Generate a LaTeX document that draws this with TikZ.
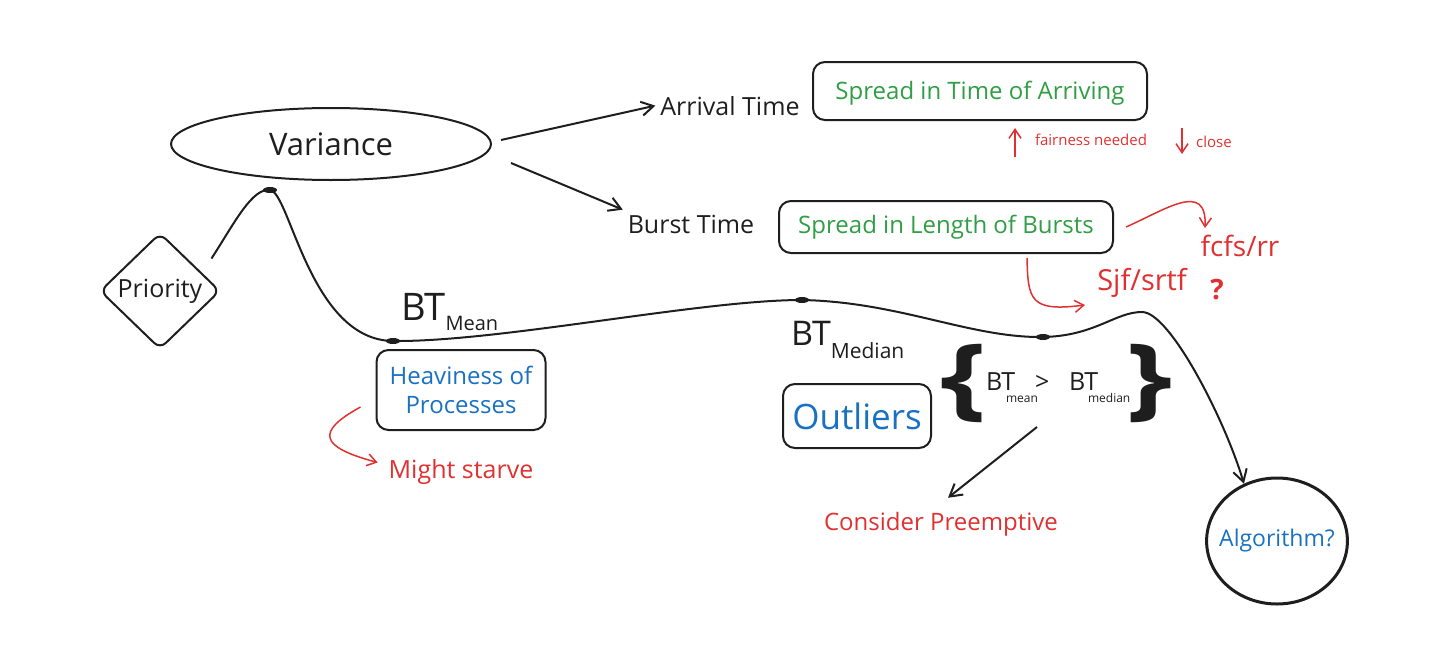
\documentclass[tikz,border=0pt]{standalone}
\usepackage{fontspec}
\setmainfont{Open Sans}
\usetikzlibrary{shapes.geometric,arrows.meta,positioning,calc}

\definecolor{ink}{HTML}{1E1E1E}
\definecolor{sketchgreen}{HTML}{2F9E44}
\definecolor{sketchred}{HTML}{E03131}
\definecolor{sketchblue}{HTML}{1971C2}
\newcommand{\fsz}[1]{\fontsize{#1}{#1}\selectfont}

\begin{document}
\begin{tikzpicture}[x=0.5pt,y=-0.5pt,color=ink,line width=1pt,
  box/.style={draw=ink,rounded corners=6pt,inner sep=0pt},
  lbl/.style={anchor=base,inner sep=2pt},
  arw/.style={-{Straight Barb[length=6pt,width=7pt]}},
  redarw/.style={sketchred,line width=0.75pt,-{Straight Barb[length=4.5pt,width=6pt]}}]
\useasboundingbox (0,0) rectangle (1444,648);

\node[draw,ellipse,minimum width=160pt,minimum height=36pt,inner sep=0pt,font=\fsz{15.5}] (var) at (331,144) {Variance};
\node[lbl,font=\fsz{12.5}] (arr) at (730,115) {Arrival Time};
\node[lbl,font=\fsz{12.5}] (burst) at (691,233) {Burst Time};
\node[box,minimum width=167pt,minimum height=29pt,text height=11pt,font=\fsz{12},text=sketchgreen] (arrbox) at (980,91) {Spread in Time of Arriving};
\node[box,minimum width=167pt,minimum height=26pt,font=\fsz{12},text=sketchgreen] (burstbox) at (946,227) {Spread in Length of Bursts};

\draw[arw] ($(var.east)+(9,-4)$) -- (arr.west);
\draw[arw] ($(var.east)+(19,19)$) -- (burst.north west);

% notes on arrival spread
\node[lbl,font=\fsz{7.5},text=sketchred] (fair) at (1091,145) {fairness needed};
\node[lbl,font=\fsz{7.5},text=sketchred] (close) at (1214,147) {close};
\coordinate (fairlo) at (1015,157);
\coordinate (fairhi) at (1015,128);
\coordinate (closehi) at (1182,128);
\coordinate (closelo) at (1182,154);
\draw[redarw] (fairlo) -- (fairhi);
\draw[redarw] (closehi) -- (closelo);

% notes on burst spread
\node[lbl,font=\fsz{14},text=sketchred] (fcfs) at (1240,256) {fcfs/rr};
\node[lbl,font=\fsz{14.5},text=sketchred] (sjf) at (1142,290) {Sjf/srtf};
\node[lbl,font=\fsz{14}\bfseries,text=sketchred] (q) at (1217,299) {?};
\coordinate (fcfstip) at (1205,228);
\coordinate (sjftip) at (1085,305);
\draw[redarw] ($(burstbox.east)+(12,0)$) .. controls (1165,210) and (1207,180) .. (fcfstip);
\draw[redarw] ($(burstbox.south)+(81,4)$) .. controls (1028,300) and (1030,312) .. (sjftip);

\node[draw,diamond,minimum width=60pt,minimum height=58pt,inner sep=0pt,rounded corners=4pt,font=\fsz{12.5}] (prio) at (160,291) {Priority};

\node[anchor=base west,inner sep=0pt,font=\fsz{19}] (btmean) at (400,320) {BT\raisebox{-5pt}{\fsz{10}Mean}};
\node[box,minimum width=84.5pt,minimum height=40pt,align=center,font={\fontsize{12}{14.5}\selectfont},text=sketchblue] (heavy) at (461,390) {Heaviness of\\Processes};
\node[lbl,font=\fsz{12.5},text=sketchred] (might) at (461,478) {Might starve};
\draw[redarw] ($(heavy.west)+(-15,17)$) .. controls (315,432) and (320,447) .. ($(might.west)+(-6,-9)$);

\node[anchor=base west,inner sep=0pt,font=\fsz{17}] (btmed) at (790,345) {BT\raisebox{-6.5pt}{\fsz{10.5}Median}};
\node[box,minimum width=74pt,minimum height=32pt,font=\fsz{17.5},text=sketchblue] (out) at (857,416) {Outliers};

% comparison in braces
\node[font=\fsz{45}\bfseries,xscale=1.3,inner sep=0pt] (lb) at (964,383) {\{};
\node[anchor=base west,inner sep=0pt,font=\fsz{12.5}] (bt1) at (985,390) {BT};
\node[anchor=base west,inner sep=0pt,font=\fsz{12.5}] (gt) at (1034,390) {>};
\node[anchor=base west,inner sep=0pt,font=\fsz{12.5}] (bt2) at (1068,390) {BT};
\node[anchor=base west,inner sep=0pt,font=\fsz{6}] (sub1) at (1005,402) {mean};
\node[anchor=base west,inner sep=0pt,font=\fsz{6}] (sub2) at (1087,402) {median};
\node[font=\fsz{45}\bfseries,xscale=1.3,inner sep=0pt] (rb) at (1150,383) {\}};

\node[lbl,font=\fsz{12},text=sketchred] (pre) at (941,530) {Consider Preemptive};
\coordinate (gtfoot) at (1037,427);
\draw[arw] (gtfoot) -- ($(pre.north)+(7,-9)$);

\node[draw,ellipse,line width=1.5pt,minimum width=70pt,minimum height=63pt,inner xsep=-4pt,inner ysep=0pt,font=\fsz{11.5},text=sketchblue] (algo) at (1277,541) {Algorithm?};

% the long curve
\coordinate (c0) at ($(prio.north east)+(21,-3)$);
\coordinate (k1) at (270,190);
\coordinate (k2) at (393,341);
\coordinate (k3) at (802,300);
\coordinate (k4) at (1043,337);
\coordinate (k5) at (1142,312);
\draw[arw] (c0) .. controls (235,222) and (252,188) .. (k1)
  .. controls (290,192) and (310,340) .. (k2)
  .. controls (500,342) and (700,300) .. (k3)
  .. controls (900,302) and (970,338) .. (k4)
  .. controls (1095,336) and (1115,312) .. (k5)
  .. controls (1170,312) and (1225,420) .. (algo.120);
\foreach \k in {k1,k2,k3,k4} {
\fill (\k) ellipse [x radius=3.5pt,y radius=1.5pt];
};
\end{tikzpicture}
\end{document}
